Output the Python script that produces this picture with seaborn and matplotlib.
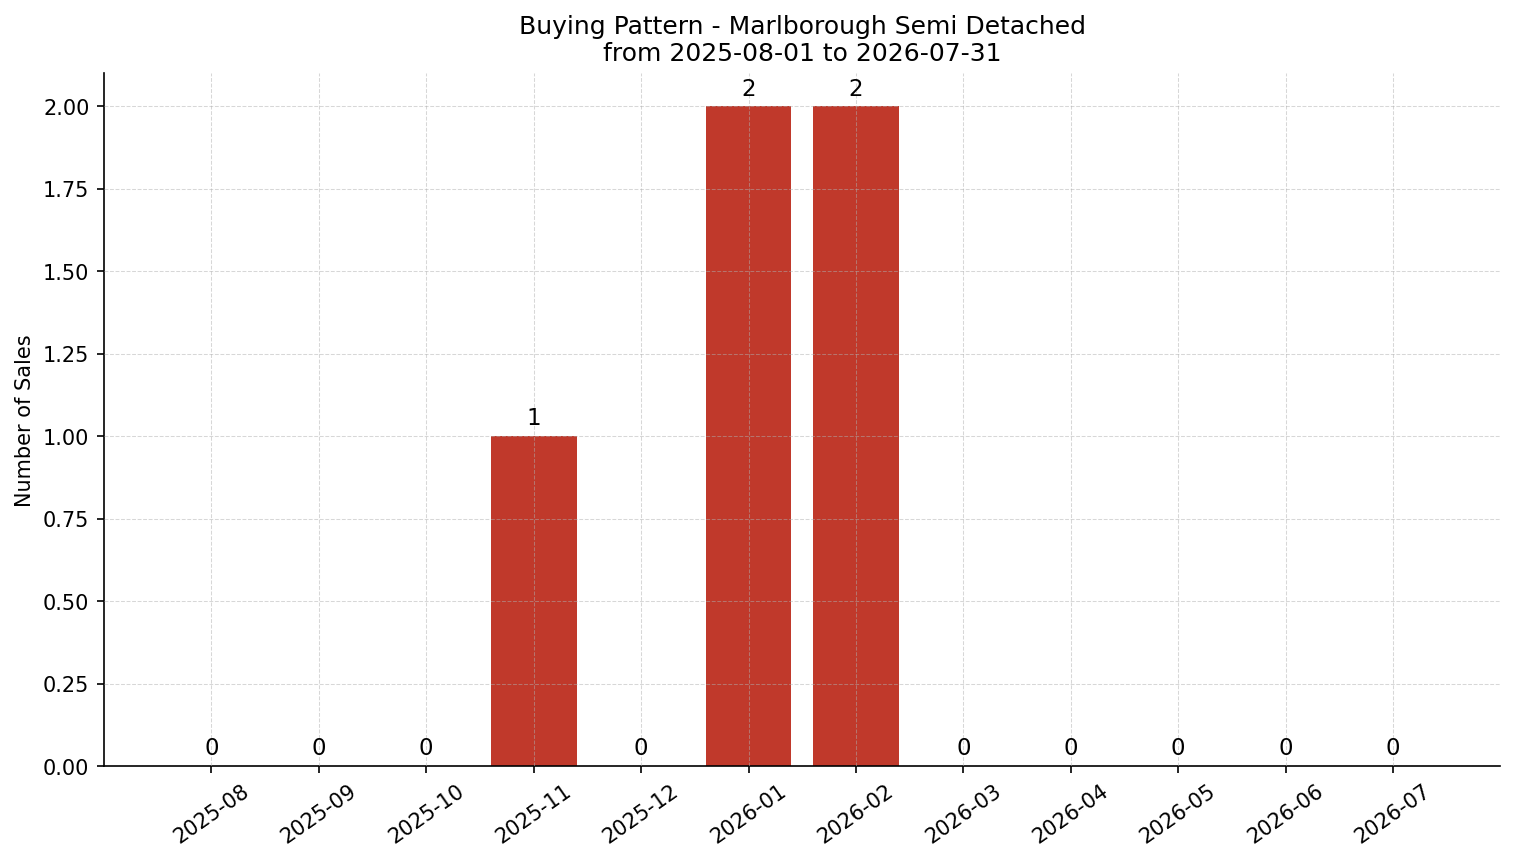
import matplotlib
matplotlib.use("Agg")
import matplotlib.pyplot as plt
import seaborn as sns
import pandas as pd

months = ['2025-08', '2025-09', '2025-10', '2025-11', '2025-12', '2026-01',
          '2026-02', '2026-03', '2026-04', '2026-05', '2026-06', '2026-07']
sales = [0, 0, 0, 1, 0, 2, 2, 0, 0, 0, 0, 0]

df = pd.DataFrame({'month': months, 'sales': sales})

plt.rcParams['font.family'] = ['DejaVu Sans']

fig, ax = plt.subplots(figsize=(10.09, 5.75), dpi=150)
sns.barplot(data=df, x='month', y='sales', color='#c0392b', saturation=1,
            width=0.8, ax=ax)

# value labels above each bar
for i, v in enumerate(sales):
    ax.annotate(str(v), (i, v), xytext=(0, 3), textcoords='offset points',
                ha='center', va='bottom', fontsize=11)

ax.set_xlim(-1, 12)
ax.set_ylim(0, 2.1)
ax.set_xlabel('')
ax.set_ylabel('Number of Sales', fontsize=10)
ax.set_title('Buying Pattern - Marlborough Semi Detached\nfrom 2025-08-01 to 2026-07-31',
             fontsize=12)
ax.tick_params(axis='x', rotation=35, labelsize=10)
ax.tick_params(axis='y', labelsize=10)
for lbl in ax.get_xticklabels():
    lbl.set_ha('center')
ax.grid(True, linestyle='--', alpha=0.5, linewidth=0.5)
ax.set_axisbelow(False)
sns.despine(ax=ax)

fig.subplots_adjust(left=0.0687, right=0.9914, top=0.9143, bottom=0.1112)
plt.savefig('out.png', dpi=150)
